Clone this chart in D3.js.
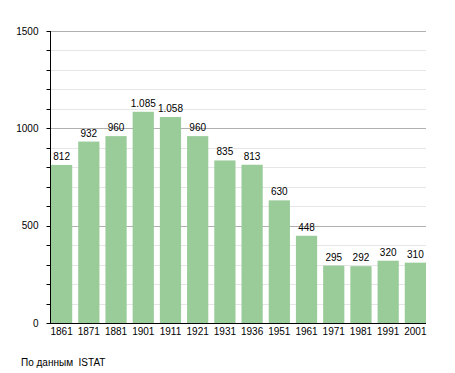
<!DOCTYPE html>
<html>
<head>
<meta charset="utf-8">
<script src="https://cdn.jsdelivr.net/npm/d3@7"></script>
<style>
    body { margin: 0; background: #fff; }
    text { font-family: "Liberation Sans", Arial, sans-serif; font-size: 10px; fill: #000; }
</style>
</head>
<body>
<script>
(function () {
    var years = ["1861", "1871", "1881", "1901", "1911", "1921", "1931", "1936", "1951", "1961", "1971", "1981", "1991", "2001"];
    var population = [812, 932, 960, 1085, 1058, 960, 835, 813, 630, 448, 295, 292, 320, 310];
    var yTicks = [0, 500, 1000, 1500];
    var source = "По данным  ISTAT";

    var width = 455, height = 373;
    var left = 50, right = 426, top = 31, bottom = 323;

    var svg = d3.select("body").append("svg")
        .attr("width", width)
        .attr("height", height);

    var x = d3.scaleBand()
        .domain(years)
        .range([left + 1, right])
        .paddingInner(0.22)
        .paddingOuter(0);

    var y = d3.scaleLinear()
        .domain([0, 1500])
        .range([bottom, top]);

    // gridlines, every 100
    var minor = d3.range(100, 1501, 100);
    svg.append("g")
        .selectAll("line")
        .data(minor)
        .enter().append("line")
        .attr("x1", left)
        .attr("x2", right)
        .attr("y1", function (d) { return Math.round(y(d)) + 0.5; })
        .attr("y2", function (d) { return Math.round(y(d)) + 0.5; })
        .attr("stroke", function (d) { return d % 500 === 0 ? "#b0b0b0" : "#e6e6e6"; })
        .attr("stroke-width", 1);

    // bars
    svg.append("g")
        .selectAll("rect")
        .data(population)
        .enter().append("rect")
        .attr("x", function (d, i) { return x(years[i]); })
        .attr("width", x.bandwidth())
        .attr("y", function (d) { return y(d); })
        .attr("height", function (d) { return bottom - y(d); })
        .attr("fill", "#99cc99");

    // value labels
    var fmt = function (v) { return v >= 1000 ? d3.format(",")(v).replace(",", ".") : String(v); };
    svg.append("g")
        .selectAll("text")
        .data(population)
        .enter().append("text")
        .attr("x", function (d, i) { return x(years[i]) + x.bandwidth() / 2; })
        .attr("y", function (d) { return y(d) - 5; })
        .attr("text-anchor", "middle")
        .text(fmt);

    // y axis
    var yAxis = svg.append("g")
        .attr("transform", "translate(" + (left + 0.5) + ",0)");
    yAxis.append("line")
        .attr("y1", top).attr("y2", bottom + 1)
        .attr("stroke", "#000");
    yAxis.selectAll(".tick")
        .data(minor.concat([0]))
        .enter().append("line")
        .attr("x1", -4).attr("x2", 0)
        .attr("y1", function (d) { return Math.round(y(d)) + 0.5; })
        .attr("y2", function (d) { return Math.round(y(d)) + 0.5; })
        .attr("stroke", "#000");
    yAxis.selectAll("text")
        .data(yTicks)
        .enter().append("text")
        .attr("x", -12)
        .attr("y", function (d) { return y(d); })
        .attr("dy", "0.35em")
        .attr("text-anchor", "end")
        .text(function (d) { return d; });

    // x axis
    svg.append("line")
        .attr("x1", left).attr("x2", right)
        .attr("y1", bottom + 0.5).attr("y2", bottom + 0.5)
        .attr("stroke", "#000");
    svg.append("g")
        .selectAll("text")
        .data(years)
        .enter().append("text")
        .attr("x", function (d) { return x(d) + x.bandwidth() / 2; })
        .attr("y", bottom + 12)
        .attr("text-anchor", "middle")
        .text(function (d) { return d; });

    svg.append("text")
        .attr("x", 21)
        .attr("y", 366)
        .style("white-space", "pre")
        .text(source);
})();
</script>
</body>
</html>
